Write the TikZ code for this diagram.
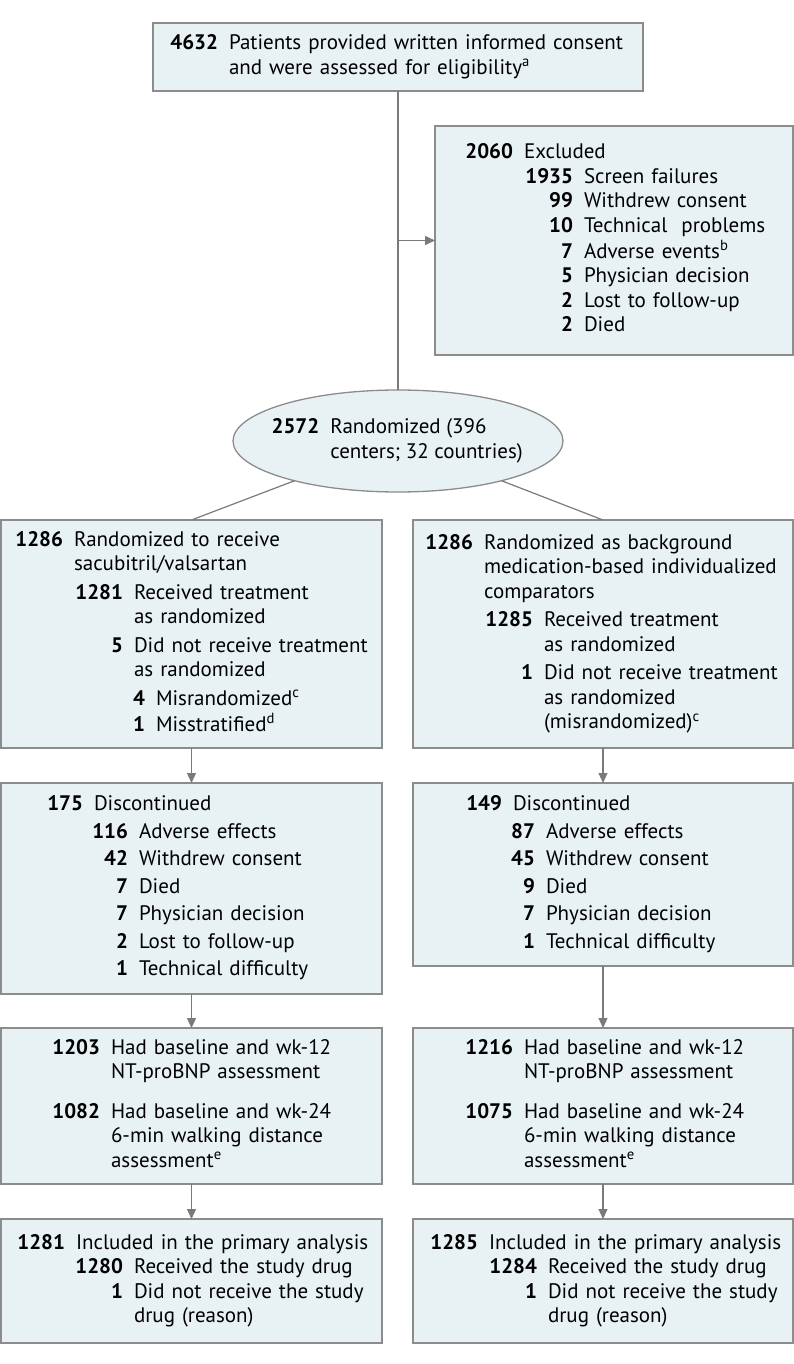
\documentclass[tikz,border=0pt]{standalone}
\usepackage{fontspec}
\setmainfont{PT Sans}
\usetikzlibrary{arrows.meta,shapes.geometric}

\definecolor{boxfill}{HTML}{E8F2F5}
\definecolor{boxline}{HTML}{8C8C8C}
\definecolor{arrowline}{HTML}{7A7A7A}

\newcommand{\flrow}[3]{\mbox{\makebox[#1pt][r]{\textbf{#2}}\hspace{11pt}\begin{tabular}[t]{@{}l@{}}#3\end{tabular}}}

\tikzset{
  flbox/.style={draw=boxline, fill=boxfill, line width=1.3pt, anchor=north west, align=left, inner ysep=0pt, outer sep=0pt},
  conn/.style={draw=arrowline, line width=1.2pt},
  connarrow/.style={conn, -{Triangle[width=9pt,length=10pt]}}
}

\begin{document}
\begin{tikzpicture}[x=1pt,y=-1pt, every node/.style={font=\fontsize{21}{24.5}\selectfont}]
\useasboundingbox (0,0) rectangle (794,1364);

\node[flbox, inner xsep=19pt, text width=452pt, minimum height=68pt] (consent) at (153,23)
  {\flrow{46}{4632}{Patients provided written informed consent\\and were assessed for eligibility\textsuperscript{a}}};

\node[flbox, inner xsep=32pt, text width=294pt, minimum height=229pt] (excl) at (435,126)
  {\flrow{46}{2060}{Excluded}\\
   \flrow{106}{1935}{Screen failures}\\
   \flrow{106}{99}{Withdrew consent}\\
   \flrow{106}{10}{Technical\ \ problems}\\
   \flrow{106}{7}{Adverse events\textsuperscript{b}}\\
   \flrow{106}{5}{Physician decision}\\
   \flrow{106}{2}{Lost to follow-up}\\
   \flrow{106}{2}{Died}};

\node[draw=boxline, fill=boxfill, line width=1.3pt, ellipse, minimum width=330pt, minimum height=102pt,
  inner xsep=-16pt, inner ysep=6pt, outer sep=0pt, align=left] (rand) at (398,441)
  {\flrow{46}{2572}{Randomized (396\\centers; 32 countries)}};

\node[flbox, inner xsep=16pt, text width=349pt, minimum height=228pt] (sacv) at (1,520)
  {\flrow{46}{1286}{Randomized to receive\\sacubitril/valsartan}\\[3pt]
   \flrow{106}{1281}{Received treatment\\as randomized}\\[3pt]
   \flrow{106}{5}{Did not receive treatment\\as randomized}\\[3pt]
   \flrow{128}{4}{Misrandomized\textsuperscript{c}}\\
   \flrow{128}{1}{Misstratified\textsuperscript{d}}};

\node[flbox, inner xsep=14pt, text width=352pt, minimum height=228pt] (comp) at (413,520)
  {\flrow{46}{1286}{Randomized as background\\medication-based individualized\\comparators}\\[3pt]
   \flrow{106}{1285}{Received treatment\\as randomized}\\[3pt]
   \flrow{106}{1}{Did not receive treatment\\as randomized\\(misrandomized)\textsuperscript{c}}};

\node[flbox, inner xsep=48pt, text width=285pt, minimum height=211pt] (sacvdisc) at (1,783)
  {\flrow{34}{175}{Discontinued}\\[3pt]
   \flrow{79}{116}{Adverse effects}\\[3pt]
   \flrow{79}{42}{Withdrew consent}\\[3pt]
   \flrow{79}{7}{Died}\\[3pt]
   \flrow{79}{7}{Physician decision}\\[3pt]
   \flrow{79}{2}{Lost to follow-up}\\[3pt]
   \flrow{79}{1}{Technical difficulty}};

\node[flbox, inner xsep=54pt, text width=272pt, minimum height=183pt] (compdisc) at (413,783)
  {\flrow{35}{149}{Discontinued}\\[3pt]
   \flrow{68}{87}{Adverse effects}\\[3pt]
   \flrow{68}{45}{Withdrew consent}\\[3pt]
   \flrow{68}{9}{Died}\\[3pt]
   \flrow{68}{7}{Physician decision}\\[3pt]
   \flrow{68}{1}{Technical difficulty}};

\node[flbox, inner xsep=53pt, text width=275pt, minimum height=156pt] (sacvassess) at (1,1028)
  {\flrow{46}{1203}{Had baseline and wk-12\\NT-proBNP assessment}\\[14pt]
   \flrow{46}{1082}{Had baseline and wk-24\\6-min walking distance\\assessment\textsuperscript{e}}};

\node[flbox, inner xsep=54pt, text width=272pt, minimum height=156pt] (compassess) at (413,1028)
  {\flrow{46}{1216}{Had baseline and wk-12\\NT-proBNP assessment}\\[14pt]
   \flrow{46}{1075}{Had baseline and wk-24\\6-min walking distance\\assessment\textsuperscript{e}}};

\node[flbox, inner xsep=18pt, text width=345pt, minimum height=124pt] (sacvanal) at (1,1219)
  {\flrow{46}{1281}{Included in the primary analysis}\\
   \flrow{104}{1280}{Received the study drug}\\
   \flrow{104}{1}{Did not receive the study\\drug (reason)}};

\node[flbox, inner xsep=19pt, text width=342pt, minimum height=124pt] (companal) at (413,1219)
  {\flrow{46}{1285}{Included in the primary analysis}\\
   \flrow{105}{1284}{Received the study drug}\\
   \flrow{105}{1}{Did not receive the study\\drug (reason)}};

\draw[conn] (consent.south) -- (rand.north);
\draw[connarrow] (consent.south |- excl.west) -- (excl.west);
\draw[conn] (rand.201) -- (sacv.north);
\draw[conn] (rand.339) -- (comp.north);

\draw[connarrow] (sacv.south) -- (sacvdisc.north);
\draw[connarrow] (comp.south) -- (compdisc.north);
\draw[connarrow] (sacvdisc.south) -- (sacvassess.north);
\draw[connarrow] (compdisc.south) -- (compassess.north);
\draw[connarrow] (sacvassess.south) -- (sacvanal.north);
\draw[connarrow] (compassess.south) -- (companal.north);
\end{tikzpicture}
\end{document}
